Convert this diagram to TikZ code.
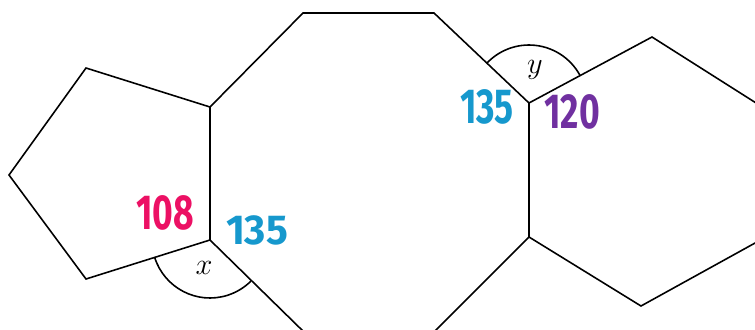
\documentclass[tikz,border=0pt]{standalone}
\usepackage{fontspec}
\usepackage{amsmath}
\newfontfamily\handfont{Fira Sans}
\definecolor{handpink}{RGB}{236,16,100}
\definecolor{handblue}{RGB}{22,152,205}
\definecolor{handpurple}{RGB}{112,48,160}

\begin{document}
\begin{tikzpicture}
  [x = .02cm, y = .02cm, line width = .9pt,
   handnum/.style = {font = \handfont\bfseries\fontsize{28}{28}\selectfont,
                     xscale = .72, transform shape, inner sep = 0pt},
   anglab/.style = {font = \fontsize{16}{18}\selectfont, inner sep = 0pt}]
  \useasboundingbox (0,0) rectangle (755,329);
  \clip (0,0) rectangle (755,329);
  % pentagon
  \coordinate (p1) at (86,261);
  \coordinate (p2) at (210,222);
  \coordinate (p3) at (210,89);
  \coordinate (p4) at (86,50);
  \coordinate (p5) at (9,154);
  % octagon
  \coordinate (o2) at (303,316);
  \coordinate (o3) at (434,316);
  \coordinate (o4) at (529,226);
  \coordinate (o5) at (529,92);
  \coordinate (o6) at (433,-4);
  \coordinate (o7) at (305,-4);
  % hexagon
  \coordinate (h2) at (652,292);
  \coordinate (h3) at (775,214);
  \coordinate (h4) at (775,97);
  \coordinate (h5) at (641,23);
  \draw (p1) -- (p2) -- (p3) -- (p4) -- (p5) -- cycle;
  \draw (p2) -- (o2) -- (o3) -- (o4) -- (o5) -- (o6) -- (o7) -- (p3);
  \draw (o4) -- (h2) -- (h3) -- (h4) -- (h5) -- (o5);
  % angle arcs
  \draw ([shift={(197.5:1.16cm)}]p3) arc[start angle = 197.5, end angle = 315, radius = 1.16cm];
  \draw ([shift={(28:1.16cm)}]o4) arc[start angle = 28, end angle = 136.5, radius = 1.16cm];
  \node[anglab] (labx) at (204,61) {$x$};
  \node[anglab] (laby) at (535,259) {$y$};
  % written angles
  \node[handnum, text = handpink] (n108) at (165,116) {108};
  \node[handnum, text = handblue, xscale = 1.15, yscale = .85] (n135a) at (257,99) {135};
  \node[handnum, text = handblue] (n135b) at (487,222) {135};
  \node[handnum, text = handpurple] (n120) at (572,217) {120};
\end{tikzpicture}
\end{document}
